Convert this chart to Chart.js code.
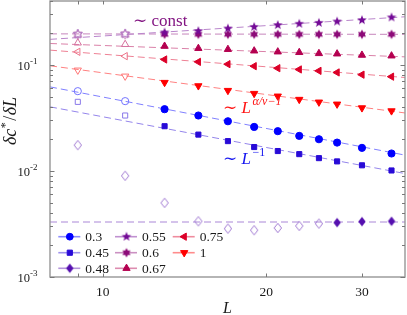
<!DOCTYPE html>
<html><head><meta charset="utf-8">
<script src="https://cdn.jsdelivr.net/npm/chart.js@4/dist/chart.umd.min.js"></script>
<style>html,body{margin:0;padding:0;background:#fff;}canvas{display:block;}</style>
</head><body>
<canvas id="c" width="407" height="315"></canvas>
<script>
// ---------------- data ----------------
const L = [9, 11, 13, 15, 17, 19, 21, 23, 25, 27, 30, 34];
const seriesLabels = ['0.3', '0.45', '0.48', '0.55', '0.6', '0.67', '0.75', '1'];
const y03  = [0.0565, 0.0455, 0.0382, 0.0333, 0.0294, 0.0260, 0.0237, 0.0214, 0.0199, 0.0185, 0.0165, 0.0146];
const y045 = [0.0448, 0.0333, 0.0264, 0.0220, 0.0191, 0.0168, 0.0154, 0.0144, 0.0132, 0.0123, 0.0113, 0.0101];
const y048 = [0.0175, 0.0090, 0.0050, 0.00335, 0.00286, 0.00276, 0.0029, 0.00303, 0.00319, 0.00326, 0.00333, 0.00335];
const y055 = [0.195, 0.196, 0.202, 0.208, 0.220, 0.228, 0.237, 0.244, 0.249, 0.256, 0.264, 0.280];
const y06  = [0.193, 0.194, 0.194, 0.194, 0.194, 0.194, 0.194, 0.194, 0.194, 0.194, 0.194, 0.194];
const y067 = [0.161, 0.156, 0.150, 0.143, 0.140, 0.1355, 0.1327, 0.131, 0.128, 0.127, 0.1235, 0.1216];
const y075 = [0.1327, 0.1208, 0.1124, 0.1067, 0.1015, 0.0972, 0.0930, 0.0905, 0.0878, 0.0848, 0.0808, 0.0774];
const y1   = [0.0891, 0.0782, 0.0682, 0.0634, 0.0573, 0.0537, 0.0507, 0.0472, 0.0445, 0.0426, 0.0393, 0.0368];
// number of leading open (hollow) points per series
const openCounts = [2, 2, 9, 2, 2, 2, 2, 2];
// dashed guide lines: values at the two ends of the L range
const fitL   = [8, 36];
const fit03  = [0.062, 0.0141];
const fit045 = [0.0402, 0.00945];
const fit048 = [0.0033, 0.0033];
const fit055 = [0.174, 0.284];
const fit06  = [0.196, 0.194];
const fit067 = [0.159, 0.119];
const fit075 = [0.1377, 0.076];
const fit1   = [0.098, 0.0352];
const xMajorTicks = [10, 20, 30];
const xMinorTicks = [9];
const yTickExps = [-3, -2, -1];
const xRange = [8, 36];
const yRange = [0.001, 0.4];

const seriesY = [y03, y045, y048, y055, y06, y067, y075, y1];
const seriesFit = [fit03, fit045, fit048, fit055, fit06, fit067, fit075, fit1];

// ---------------- styles ----------------
const RGB = [[0,0,255],[40,10,215],[85,15,175],[115,10,150],[140,10,120],[180,0,80],[220,0,40],[255,0,0]];
const shapes = ['circle','rect','diamond','star5','star6','triangle','triangle','triangle'];
const rots = [0,0,0,0,0,0,270,180];
function rgb(c){return `rgb(${c[0]},${c[1]},${c[2]})`;}
function mix(c,t){return `rgb(${Math.round(c[0]+(255-c[0])*t)},${Math.round(c[1]+(255-c[1])*t)},${Math.round(c[2]+(255-c[2])*t)})`;}

function polyCanvas(ptsFn, size, fill, stroke){
  const cv=document.createElement('canvas'); cv.width=size; cv.height=size;
  const g=cv.getContext('2d'); const pts=ptsFn(size/2,size/2);
  g.beginPath(); pts.forEach((p,i)=>i?g.lineTo(p[0],p[1]):g.moveTo(p[0],p[1])); g.closePath();
  if(fill){g.fillStyle=fill; g.fill();}
  if(stroke){g.strokeStyle=stroke; g.lineWidth=1; g.stroke();}
  return cv;
}
function starPts(n,R,r){return (cx,cy)=>{const a=[];for(let i=0;i<2*n;i++){const ang=-Math.PI/2+i*Math.PI/n;const rr=i%2?r:R;a.push([cx+rr*Math.cos(ang),cy+rr*Math.sin(ang)]);}return a;};}
function diamondPts(w,h){return (cx,cy)=>[[cx,cy-h/2],[cx+w/2,cy],[cx,cy+h/2],[cx-w/2,cy]];}
function shapeCanvas(shape, fill, stroke){
  if(shape==='star5') return polyCanvas(starPts(5,5.0,2.1),12,fill,stroke);
  if(shape==='star6') return polyCanvas(starPts(6,4.7,2.7),12,fill,stroke);
  if(shape==='diamond') return polyCanvas(diamondPts(7.4,9.4),12,fill,stroke);
  return null;
}
const radii = {circle:3.6, rect:3.6, triangle:4.2};

const datasets = [];
seriesY.forEach((ys,k)=>{
  const col=rgb(RGB[k]), light=mix(RGB[k],0.45), lineCol=mix(RGB[k],0.5);
  const sh=shapes[k], nOpen=openCounts[k];
  let ps;
  const custom = shapeCanvas(sh,col,null);
  if(custom){
    const openImg = shapeCanvas(sh,null,light);
    ps = ctx=>ctx.dataIndex<nOpen?openImg:custom;
  } else ps = sh;
  datasets.push({
    label: seriesLabels[k],
    data: L.map((x,i)=>({x:x,y:ys[i]})),
    showLine:false, order:0,
    pointStyle: ps,
    pointRadius: custom?5:radii[sh],
    pointRotation: rots[k],
    pointBorderWidth: 1,
    pointBackgroundColor: ctx=>ctx.dataIndex<nOpen?'rgba(255,255,255,0)':col,
    pointBorderColor: ctx=>ctx.dataIndex<nOpen?light:col,
    borderColor: col, backgroundColor: col
  });
  datasets.push({
    label: seriesLabels[k]+' fit',
    data: fitL.map((x,i)=>({x:x,y:seriesFit[k][i]})),
    showLine:true, order:1, pointRadius:0,
    borderColor: lineCol, borderWidth:1, borderDash:[7,4], fill:false
  });
});

// ---------------- drawing helpers ----------------
const SERIF = '"Liberation Serif","DejaVu Serif",serif';
function rich(ctx, parts, x, y, align){
  let w=0; parts.forEach(p=>{ctx.font=p.f; p.w=ctx.measureText(p.t).width+(p.sp||0); w+=p.w;});
  let cx = align==='right'?x-w:align==='center'?x-w/2:x;
  parts.forEach(p=>{ctx.font=p.f; ctx.fillText(p.t,cx,y+(p.dy||0)); cx+=p.w;});
  return w;
}
function drawMarker(ctx,k,x,y){
  const col=rgb(RGB[k]), sh=shapes[k];
  const cv=shapeCanvas(sh,col,null);
  if(cv){ctx.drawImage(cv,x-cv.width/2,y-cv.height/2);return;}
  ctx.save(); ctx.fillStyle=col; ctx.strokeStyle=col; ctx.lineWidth=1; ctx.beginPath();
  if(sh==='circle'){ctx.arc(x,y,3.4,0,Math.PI*2);}
  else if(sh==='rect'){ctx.rect(x-2.6,y-2.6,5.2,5.2);}
  else { const r=4.2; let a=rots[k]*Math.PI/180;
    for(let i=0;i<3;i++){const px=x+Math.sin(a)*r, py=y-Math.cos(a)*r; i?ctx.lineTo(px,py):ctx.moveTo(px,py); a+=2*Math.PI/3;}
    ctx.closePath(); }
  ctx.fill(); ctx.stroke(); ctx.restore();
}

const decor = {
  id:'decor',
  afterDatasetsDraw(chart){
    const ctx=chart.ctx, a=chart.chartArea, xs=chart.scales.x, ys=chart.scales.y;
    ctx.save();
    // box
    ctx.strokeStyle='rgb(150,150,150)'; ctx.lineWidth=1.4;
    ctx.strokeRect(a.left,a.top,a.right-a.left,a.bottom-a.top);
    // ticks
    ctx.lineWidth=1; ctx.strokeStyle='rgb(120,120,120)';
    const tick=(x1,y1,x2,y2)=>{ctx.beginPath();ctx.moveTo(x1,y1);ctx.lineTo(x2,y2);ctx.stroke();};
    xMajorTicks.concat(xMinorTicks).forEach(v=>{
      const px=Math.round(xs.getPixelForValue(v))+0.5;
      tick(px,a.bottom,px,a.bottom-3.5); tick(px,a.top,px,a.top+3.5);
    });
    yTickExps.forEach(e=>{
      for(let m=1;m<=9;m++){
        const v=m*Math.pow(10,e); if(v>yRange[1]*1.0001) break;
        const py=Math.round(ys.getPixelForValue(v))+0.5, len=m===1?4.5:3;
        tick(a.left,py,a.left+len,py); tick(a.right,py,a.right-len,py);
      }
    });
    // tick labels
    ctx.fillStyle='#1a1a1a'; ctx.textBaseline='alphabetic';
    xMajorTicks.forEach(v=>{
      ctx.font='13.5px '+SERIF; ctx.textAlign='center';
      ctx.fillText(String(v), xs.getPixelForValue(v), 296);
    });
    ctx.textAlign='left';
    yTickExps.forEach(e=>{
      const py=ys.getPixelForValue(Math.pow(10,e));
      rich(ctx,[{t:'10',f:'12.5px '+SERIF},{t:'-'+(-e),f:'9px '+SERIF,dy:-6}],37.5,py+5,'right');
    });
    // axis titles
    rich(ctx,[{t:'L',f:'italic 16px '+SERIF}],(a.left+a.right)/2,313,'center');
    ctx.save(); ctx.translate(16,121); ctx.rotate(-Math.PI/2);
    rich(ctx,[{t:'δc',f:'italic 18px '+SERIF,sp:0.5},{t:'*',f:'12px '+SERIF,dy:-7,sp:1.5},{t:'/',f:'18px '+SERIF,sp:0.5},{t:'δL',f:'italic 18px '+SERIF}],0,0,'center');
    ctx.restore();
    // annotations
    ctx.fillStyle='rgb(130,20,130)';
    rich(ctx,[{t:'∼ const',f:'17px '+SERIF}],133,26,'left');
    ctx.fillStyle='rgb(255,20,20)';
    rich(ctx,[{t:'∼ ',f:'17px '+SERIF},{t:'L',f:'italic 17px '+SERIF,sp:1.5},{t:'α/ν−1',f:'italic 12px '+SERIF,dy:-8}],223,113,'left');
    ctx.fillStyle='rgb(20,20,240)';
    rich(ctx,[{t:'∼ ',f:'17px '+SERIF},{t:'L',f:'italic 17px '+SERIF,sp:1.5},{t:'−1',f:'12px '+SERIF,dy:-8}],223,164,'left');
    // legend (column-major, 3 rows)
    const colX=[58.3,115,172.7], rowY=[236.7,252.7,268.3];
    seriesLabels.forEach((lab,k)=>{
      const cx=colX[Math.floor(k/3)], cy=rowY[k%3];
      ctx.strokeStyle=mix(RGB[k],0.55); ctx.lineWidth=1.6;
      ctx.beginPath(); ctx.moveTo(cx,cy); ctx.lineTo(cx+22,cy); ctx.stroke();
      drawMarker(ctx,k,cx+11.5,cy);
      ctx.fillStyle='#1a1a1a'; ctx.font='13.5px '+SERIF; ctx.textAlign='left';
      ctx.fillText(lab,cx+27,cy+4.6);
    });
    ctx.restore();
  }
};

new Chart(document.getElementById('c'),{
  type:'line',
  data:{datasets:datasets},
  options:{
    responsive:false, animation:false, devicePixelRatio:1,
    layout:{autoPadding:false, padding:{left:50,top:1,right:2,bottom:38}},
    scales:{
      x:{type:'logarithmic',min:xRange[0],max:xRange[1],display:false},
      y:{type:'logarithmic',min:yRange[0],max:yRange[1],display:false}
    },
    plugins:{legend:{display:false},tooltip:{enabled:false}}
  },
  plugins:[decor]
});
</script>
</body></html>
